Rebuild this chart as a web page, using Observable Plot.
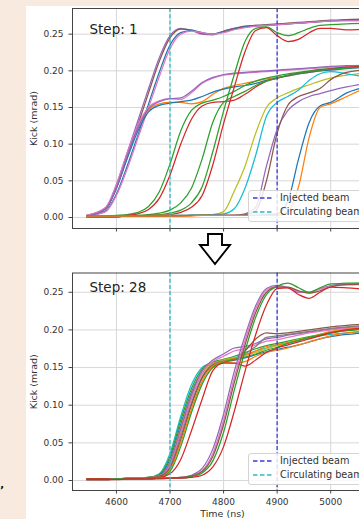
<!DOCTYPE html>
<html><head><meta charset="utf-8">
<script src="https://cdn.jsdelivr.net/npm/d3@7"></script>
<script src="https://cdn.jsdelivr.net/npm/@observablehq/plot@0.6"></script>
<style>
html,body{margin:0;padding:0;width:359px;height:519px;overflow:hidden;background:#f9eadf;font-family:"DejaVu Sans",sans-serif;}
#page{position:absolute;left:26px;top:6px;width:400px;height:520px;background:#fff;}
.abs{position:absolute;}
.legend{position:absolute;width:130px;height:30px;border:1px solid #d4d4d4;border-radius:3px;background:rgba(255,255,255,0.82);}
.legend svg{display:block;}
#mark{position:absolute;left:0px;top:484px;font:bold 11px "DejaVu Sans";color:#111;}
</style></head><body>
<div id="page">
  <div id="top" class="abs" style="left:0;top:0"></div>
  <svg class="abs" style="left:172px;top:226px" width="36" height="36"><path d="M10 2 H24 V13 H32 L17 32 L2 13 H10 Z" fill="#fff" stroke="#000" stroke-width="1.9"/></svg>
  <div id="bottom" class="abs" style="left:0;top:256px"></div>
  <div id="legTop" class="legend" style="left:222px;top:184px"></div>
  <div id="legBottom" class="legend" style="left:222px;top:447px"></div>
</div>
<span id="mark">’</span>
<script>
// ---------- shared scales / ticks ----------
const timeNs = [4545,4580,4600,4620,4640,4660,4680,4700,4720,4740,4760,4780,4800,4820,4840,4860,4880,4900,4920,4940,4960,4980,5000,5030,5080];
const xTicks = [4600,4700,4800,4900,5000];
const yTicks = [0,0.05,0.1,0.15,0.2,0.25];
const injectedBeamNs = [4900];
const circulatingBeamNs = [4700];
const legendLabels = ["Injected beam","Circulating beam"];
const stepLabels = ["Step: 1","Step: 28"];
const axisLabels = ["Kick (mrad)","Time (ns)"];

// tab10 colours
const C = {blue:"#1f77b4",orange:"#ff7f0e",green:"#2ca02c",red:"#d62728",purple:"#9467bd",brown:"#8c564b",pink:"#e377c2",gray:"#7f7f7f",olive:"#bcbd22",cyan:"#17becf"};

// ---------- Step 1 kicks (mrad) ----------
const s1_a_purple = [0.003,0.013,0.045,0.088,0.132,0.176,0.218,0.248,0.258,0.255,0.250,0.249,0.254,0.258,0.260,0.262,0.262,0.263,0.264,0.265,0.266,0.267,0.268,0.269,0.270];
const s1_a_brown  = [0.003,0.012,0.040,0.082,0.126,0.170,0.213,0.245,0.257,0.256,0.251,0.250,0.254,0.258,0.261,0.262,0.263,0.264,0.265,0.266,0.267,0.268,0.269,0.270,0.271];
const s1_a_blue   = [0.002,0.009,0.032,0.070,0.112,0.155,0.198,0.235,0.252,0.255,0.252,0.250,0.253,0.257,0.260,0.261,0.262,0.263,0.264,0.265,0.266,0.267,0.268,0.269,0.270];
const s1_a_pink   = [0.002,0.008,0.030,0.066,0.108,0.150,0.192,0.230,0.250,0.254,0.252,0.250,0.252,0.256,0.259,0.261,0.262,0.263,0.264,0.265,0.266,0.267,0.268,0.268,0.269];
const s1_b_orange = [0.003,0.013,0.042,0.085,0.122,0.147,0.155,0.157,0.157,0.155,0.158,0.168,0.176,0.180,0.183,0.186,0.189,0.191,0.193,0.196,0.198,0.200,0.202,0.204,0.206];
const s1_b_blue   = [0.002,0.012,0.040,0.080,0.118,0.144,0.153,0.156,0.158,0.160,0.165,0.171,0.175,0.178,0.180,0.183,0.187,0.190,0.193,0.196,0.198,0.200,0.201,0.203,0.205];
const s1_b_pink   = [0.003,0.014,0.045,0.088,0.126,0.150,0.159,0.162,0.161,0.170,0.183,0.190,0.194,0.196,0.197,0.198,0.199,0.200,0.201,0.202,0.203,0.204,0.205,0.206,0.207];
const s1_b_purple = [0.002,0.012,0.041,0.084,0.122,0.148,0.158,0.162,0.163,0.172,0.184,0.191,0.195,0.197,0.198,0.199,0.200,0.201,0.202,0.203,0.204,0.205,0.206,0.207,0.208];
const s1_c_green  = [0.002,0.002,0.003,0.004,0.007,0.015,0.035,0.073,0.118,0.146,0.156,0.160,0.165,0.172,0.180,0.186,0.190,0.193,0.196,0.198,0.200,0.202,0.203,0.204,0.206];
const s1_c_red    = [0.002,0.002,0.002,0.003,0.005,0.011,0.026,0.058,0.100,0.134,0.152,0.157,0.158,0.160,0.168,0.178,0.186,0.190,0.194,0.197,0.199,0.201,0.203,0.205,0.207];
const s1_d_green2 = [0.001,0.001,0.002,0.002,0.003,0.004,0.006,0.010,0.020,0.040,0.080,0.130,0.157,0.165,0.172,0.180,0.186,0.190,0.194,0.197,0.199,0.201,0.202,0.204,0.206];
const s1_d_green  = [0.001,0.001,0.001,0.002,0.002,0.003,0.004,0.006,0.010,0.020,0.042,0.090,0.145,0.195,0.240,0.258,0.260,0.252,0.248,0.252,0.258,0.262,0.263,0.264,0.265];
const s1_d_red    = [0.001,0.001,0.001,0.002,0.002,0.003,0.003,0.004,0.007,0.014,0.030,0.072,0.128,0.178,0.226,0.255,0.259,0.248,0.240,0.243,0.252,0.258,0.258,0.256,0.257];
const s1_e_olive  = [0.001,0.001,0.001,0.002,0.002,0.002,0.003,0.003,0.003,0.003,0.004,0.004,0.008,0.036,0.070,0.115,0.150,0.163,0.170,0.176,0.181,0.186,0.190,0.194,0.198];
const s1_e_cyan   = [0.001,0.001,0.001,0.002,0.002,0.002,0.002,0.003,0.003,0.003,0.003,0.004,0.005,0.012,0.040,0.085,0.138,0.157,0.165,0.174,0.187,0.196,0.199,0.196,0.190];
const s1_e_purple = [0.001,0.001,0.001,0.002,0.002,0.002,0.002,0.002,0.003,0.003,0.003,0.003,0.003,0.003,0.005,0.014,0.070,0.120,0.146,0.158,0.165,0.169,0.173,0.178,0.185];
const s1_e_brown  = [0.001,0.001,0.001,0.002,0.002,0.002,0.002,0.002,0.002,0.003,0.003,0.003,0.003,0.003,0.004,0.009,0.050,0.115,0.153,0.165,0.170,0.176,0.188,0.198,0.202];
const s1_f_blue   = [0.002,0.002,0.002,0.002,0.002,0.002,0.002,0.002,0.002,0.003,0.003,0.003,0.003,0.003,0.003,0.003,0.004,0.005,0.022,0.080,0.130,0.152,0.157,0.170,0.180];
const s1_f_orange = [0.002,0.002,0.002,0.002,0.002,0.002,0.002,0.002,0.002,0.002,0.003,0.003,0.003,0.003,0.003,0.003,0.003,0.003,0.008,0.042,0.110,0.150,0.155,0.165,0.182];

// ---------- Step 28 kicks (mrad) ----------
const s28_1_cyan    = [0.002,0.002,0.002,0.003,0.003,0.004,0.009,0.036,0.085,0.127,0.150,0.157,0.160,0.163,0.167,0.172,0.176,0.180,0.183,0.186,0.189,0.192,0.194,0.196,0.198];
const s28_1_green   = [0.002,0.002,0.002,0.003,0.003,0.004,0.008,0.032,0.080,0.122,0.148,0.157,0.161,0.165,0.170,0.175,0.179,0.182,0.185,0.188,0.191,0.194,0.197,0.200,0.203];
const s28_1_blue    = [0.002,0.002,0.002,0.003,0.003,0.004,0.007,0.028,0.074,0.117,0.145,0.155,0.158,0.160,0.163,0.167,0.171,0.174,0.177,0.180,0.184,0.188,0.191,0.194,0.197];
const s28_1_orange  = [0.002,0.002,0.002,0.003,0.003,0.004,0.006,0.025,0.070,0.114,0.145,0.156,0.157,0.156,0.158,0.165,0.170,0.173,0.176,0.180,0.184,0.188,0.192,0.196,0.200];
const s28_1_olive   = [0.002,0.002,0.002,0.002,0.003,0.003,0.006,0.022,0.065,0.110,0.142,0.155,0.160,0.163,0.166,0.170,0.175,0.179,0.183,0.187,0.190,0.193,0.196,0.199,0.202];
const s28_1_purple  = [0.002,0.002,0.002,0.002,0.003,0.003,0.006,0.024,0.068,0.113,0.146,0.160,0.168,0.176,0.178,0.182,0.188,0.190,0.193,0.195,0.197,0.199,0.201,0.203,0.205];
const s28_1_pink    = [0.002,0.002,0.002,0.002,0.003,0.003,0.005,0.020,0.062,0.108,0.143,0.158,0.165,0.172,0.175,0.180,0.185,0.187,0.190,0.193,0.196,0.198,0.200,0.202,0.204];
const s28_1_gray    = [0.002,0.002,0.002,0.002,0.003,0.003,0.005,0.018,0.058,0.103,0.138,0.154,0.159,0.162,0.168,0.178,0.190,0.192,0.194,0.196,0.198,0.200,0.202,0.204,0.206];
const s28_1_brown   = [0.002,0.002,0.002,0.002,0.002,0.003,0.005,0.016,0.054,0.100,0.136,0.153,0.158,0.160,0.172,0.188,0.196,0.195,0.196,0.198,0.200,0.202,0.204,0.206,0.208];
const s28_1_orange2 = [0.002,0.002,0.002,0.002,0.002,0.003,0.004,0.014,0.050,0.095,0.132,0.152,0.158,0.162,0.166,0.172,0.178,0.180,0.183,0.186,0.190,0.194,0.198,0.201,0.204];
const s28_1_green2  = [0.002,0.002,0.002,0.002,0.002,0.003,0.004,0.012,0.045,0.090,0.128,0.150,0.157,0.161,0.164,0.168,0.173,0.177,0.182,0.186,0.190,0.193,0.196,0.199,0.202];
const s28_1_red     = [0.002,0.002,0.002,0.002,0.002,0.003,0.004,0.009,0.028,0.066,0.108,0.146,0.156,0.156,0.152,0.160,0.170,0.176,0.180,0.184,0.188,0.192,0.196,0.200,0.203];
const s28_2_purple  = [0.001,0.001,0.002,0.002,0.002,0.002,0.003,0.003,0.004,0.007,0.016,0.042,0.088,0.145,0.192,0.232,0.255,0.259,0.256,0.250,0.250,0.255,0.259,0.261,0.262];
const s28_2_pink    = [0.001,0.001,0.002,0.002,0.002,0.002,0.003,0.003,0.004,0.006,0.013,0.036,0.080,0.137,0.186,0.228,0.253,0.258,0.256,0.251,0.250,0.254,0.258,0.260,0.261];
const s28_2_brown   = [0.001,0.001,0.002,0.002,0.002,0.002,0.003,0.003,0.004,0.006,0.012,0.032,0.074,0.130,0.180,0.223,0.250,0.257,0.257,0.252,0.249,0.252,0.257,0.260,0.261];
const s28_2_green   = [0.001,0.001,0.002,0.002,0.002,0.002,0.003,0.003,0.003,0.005,0.010,0.026,0.064,0.120,0.172,0.217,0.247,0.258,0.262,0.256,0.250,0.256,0.261,0.262,0.263];
const s28_2_red     = [0.001,0.001,0.001,0.002,0.002,0.002,0.002,0.003,0.003,0.004,0.007,0.018,0.045,0.092,0.145,0.194,0.233,0.255,0.256,0.247,0.242,0.250,0.257,0.256,0.253];

const step1Series = [
  ["a_purple",C.purple,s1_a_purple],["a_brown",C.brown,s1_a_brown],["a_blue",C.blue,s1_a_blue],["a_pink",C.pink,s1_a_pink],
  ["b_orange",C.orange,s1_b_orange],["b_blue",C.blue,s1_b_blue],["b_pink",C.pink,s1_b_pink],["b_purple",C.purple,s1_b_purple],
  ["c_green",C.green,s1_c_green],["c_red",C.red,s1_c_red],["d_green2",C.green,s1_d_green2],["d_green",C.green,s1_d_green],["d_red",C.red,s1_d_red],
  ["e_olive",C.olive,s1_e_olive],["e_cyan",C.cyan,s1_e_cyan],["e_purple",C.purple,s1_e_purple],["e_brown",C.brown,s1_e_brown],
  ["f_blue",C.blue,s1_f_blue],["f_orange",C.orange,s1_f_orange]
];
const step28Series = [
  ["1_cyan",C.cyan,s28_1_cyan],["1_green",C.green,s28_1_green],["1_blue",C.blue,s28_1_blue],["1_orange",C.orange,s28_1_orange],
  ["1_olive",C.olive,s28_1_olive],["1_purple",C.purple,s28_1_purple],["1_pink",C.pink,s28_1_pink],["1_gray",C.gray,s28_1_gray],
  ["1_brown",C.brown,s28_1_brown],["1_orange2",C.orange,s28_1_orange2],["1_green2",C.green,s28_1_green2],["1_red",C.red,s28_1_red],
  ["2_purple",C.purple,s28_2_purple],["2_pink",C.pink,s28_2_pink],["2_brown",C.brown,s28_2_brown],["2_green",C.green,s28_2_green],["2_red",C.red,s28_2_red]
];

const INJ = "#3b3be0", CIRC = "#2bbcc4";
function rows(series){ return series.flatMap(([id,color,vals]) => vals.map((v,i)=>({id,color,t:timeNs[i],v}))); }

function panel({series, yDomain, height, marginTop, marginBottom, step, stepDy, showXLabels}){
  const marks = [
    Plot.gridY(yTicks,{stroke:"#d2d2d2",strokeOpacity:1,strokeWidth:0.9}),
    Plot.gridX(xTicks,{stroke:"#d2d2d2",strokeOpacity:1,strokeWidth:0.9}),
    Plot.line(rows(series),{x:"t",y:"v",z:"id",stroke:"color",strokeWidth:1.25,curve:"monotone-x",clip:true}),
    Plot.ruleX(circulatingBeamNs,{stroke:CIRC,strokeWidth:1.3,strokeDasharray:"4,2.2"}),
    Plot.ruleX(injectedBeamNs,{stroke:INJ,strokeWidth:1.3,strokeDasharray:"4,2.2"}),
    Plot.frame({stroke:"#444",strokeWidth:1}),
    Plot.axisY(yTicks,{tickSize:3.5,tickPadding:5.5,tickFormat:d3.format(".2f"),label:null,stroke:"#444",fill:"#333",fontSize:9}),
    Plot.axisX(xTicks,{tickSize:3.5,tickPadding:5,tickFormat:showXLabels?(d=>String(d)):(()=>""),label:null,stroke:"#444",fill:"#333",fontSize:9}),
    Plot.text([step],{text:d=>d,frameAnchor:"top-left",dx:17,dy:stepDy,textAnchor:"start",lineAnchor:"middle",fontSize:13.5,fill:"#222"}),
    Plot.text([axisLabels[0]],{text:d=>d,frameAnchor:"left",dx:-39,rotate:-90,textAnchor:"middle",lineAnchor:"middle",fontSize:9.5,fill:"#333"})
  ];
  if (showXLabels) marks.push(Plot.text([axisLabels[1]],{text:d=>d,frameAnchor:"bottom",dy:23.5,textAnchor:"middle",lineAnchor:"middle",fontSize:9.5,fill:"#333"}));
  return Plot.plot({
    width:360, height, marginLeft:46, marginRight:14, marginTop, marginBottom,
    style:{fontFamily:"DejaVu Sans",fontSize:"9px",background:"transparent",overflow:"visible"},
    x:{domain:[4518,5078]},
    y:{domain:yDomain},
    color:{type:"identity"},
    marks
  });
}

document.getElementById("top").append(panel({series:step1Series,yDomain:[-0.015,0.285],height:232,marginTop:2,marginBottom:10,step:stepLabels[0],stepDy:21,showXLabels:false}));
document.getElementById("bottom").append(panel({series:step28Series,yDomain:[-0.0133,0.2756],height:258,marginTop:10.5,marginBottom:30,step:stepLabels[1],stepDy:15,showXLabels:true}));

function legend(el){
  const svg = d3.select(el).append("svg").attr("width",130).attr("height",30);
  const items = [[legendLabels[0],INJ],[legendLabels[1],CIRC]];
  items.forEach(([label,col],i)=>{
    const y = 7 + i*14;
    svg.append("line").attr("x1",4).attr("x2",24).attr("y1",y).attr("y2",y).attr("stroke",col).attr("stroke-width",1.4).attr("stroke-dasharray","4.5,2.5");
    svg.append("text").attr("x",31).attr("y",y).attr("dy","0.35em").attr("font-family","DejaVu Sans").attr("font-size",9.7).attr("fill","#333").text(label);
  });
}
legend(document.getElementById("legTop"));
legend(document.getElementById("legBottom"));
</script>
</body></html>
